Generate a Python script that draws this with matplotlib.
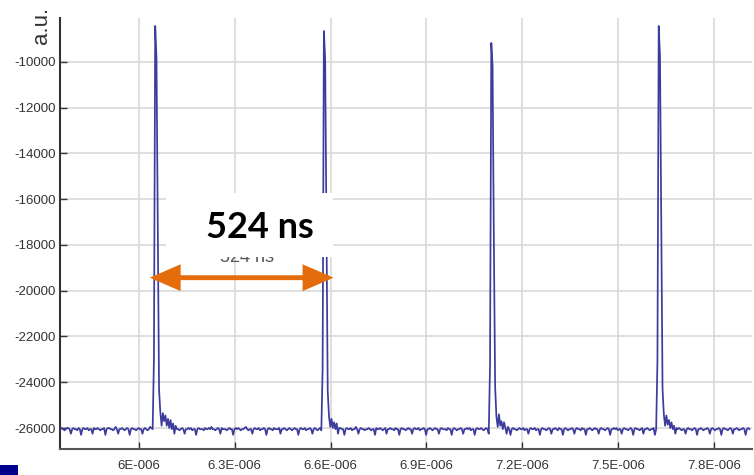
import numpy as np
import matplotlib
matplotlib.use('Agg')
import matplotlib.pyplot as plt
from matplotlib.patches import Rectangle

plt.rcParams['axes.unicode_minus'] = False

# sampling of the trace
t_start = 5.755e-6
t_step = 4e-9
baseline_level = -26050
noise_unit = 50

# baseline noise, in units of 50 a.u. around the baseline level
baseline_noise = [
    0, 1, 0, -1, 0, 1, 1, 0, -4, 0, 1, 0, 0, -1, 1, 0, -5, 0, 1, 0, 0, 1, -1, 0, 0, -4, 1, 0, 0, 1,
    0, -1, 0, 0, 1, -5, 0, 1, 1, 0, 0, -1, 0, 2, 0, -4, 0, 0, 1, 0, -1, 0, 1, 0, -5, 0, 1, 0, 0, -1,
    0, 1, 0, 0, -4, 0, 1, 0, -1, 0, 2, 1, 0, -1, 1, 0, 0, 0, 0, 0, 0, 0, 0, 0, 0, 0, 1, 0, -5, 0,
    1, 0, 0, -1, 0, 1, 0, -4, 0, 0, 1, 0, 1, -1, 0, 0, -5, 0, 1, 0, 0, 0, -1, 1, 0, 0, 1, 0, 2, 0,
    0, -1, 0, 1, 0, -4, 1, 0, 0, 0, -1, 0, 1, 0, 0, -5, 0, 1, 0, 1, 0, -1, 0, 0, 1, 2, 0, -1, 0, 0,
    -4, 0, 1, 0, 0, 1, -1, 0, 0, 1, 0, -5, 0, 1, 0, 0, -1, 1, 0, 0, 0, 1, -4, 0, 0, 1, 0, -1, 0, 1,
    0, -1, 0, 1, 0, 0, -5, 0, 1, 0, 0, 1, -1, 0, 0, 1, 0, -4, 0, 1, 0, -1, 0, 1, -1, 0, 0, 0, 0, 0,
    0, 0, 0, 0, 0, 0, 0, 0, -1, 1, 0, 0, -5, 0, 1, 0, 0, 1, -1, 0, 0, 2, 0, -4, 0, 1, 0, 0, -1, 0,
    0, 1, 0, -1, 0, 0, -5, 1, 0, 0, 1, 0, -1, 0, 1, -4, 0, 0, 1, 0, 0, -1, 1, 0, 0, -5, 0, 1, 0, 0,
    -1, 0, 1, 0, 0, -4, 0, 1, 0, 0, 1, -1, 0, 0, 1, 0, -5, 0, 0, 1, 0, -1, 0, 1, 0, 0, -4, 0, 1, 0,
    0, 0, -1, 1, 0, 0, -5, 0, 1, 0, -1, 0, 0, 1, 0, -4, 0, 0, 1, 0, 1, -1, 0, 0, -5, 0, 1, 0, 0, 1,
    0, -1, 0, 1, 0, -4, 0, 0, 0, 0, 0, 0, 0, 0, 0, 0, 0, 0, 0, 0, 1, 0, -5, 0, 1, 0, 0, -1, 0, 1,
    0, 0, 1, -1, 0, 0, -4, 0, 1, 0, 0, 1, -1, 0, 0, -5, 0, 1, 0, 0, -1, 0, 1, 0, -4, 0, 0, 1, 0, -1,
    1, 0, 0, -5, 0, 1, 0, -1, 0, 0, 1, 0, -4, 0, 1, 0, 0, -1, 1, 0, 0, -5, 0, 0, 1, 0, -1, 0, 1, 0,
    0, -4, 0, 1, 0, 0, -1, 0, 1, 0, -5, 0, 0, 1, 0, 1, -1, 0, 0, -4, 0, 1, 0, 0, -1, 0, 1, 0, -5, 0,
    1, 0, 0, -1, 0, 1, -4, 0, 0, 1, 0, -1, 0, 0, 1, -5, 0, 1, 0, 0, 0, 0, 0, 0, 0, 0, 0, 0, 0, 0,
    0, 0, 0, 0, 1, 0, -1, 0, 0, -4, 0, 1, 0, 0, -1, 0, 1, 0, -5, 0, 0, 1, 0, -1, 0, 0, 1, 0, -4, 0,
    1, 0, -1, 0, 0, 1, 0, -5, 0, 1, 0, 0, -1, 0, 1, 0, -4, 0, 0, 1, 0, -1, 0, 0, 1, 0, -5, 0, 1, 0,
]

# pulses: first sample index (one before the peak) and the samples from there on
pulse_index = [73, 205, 336, 467]
pulse_1 = [-23000, -8430, -9830, -17100, -24300, -25300, -25900, -25350, -25700,
           -25450, -25900, -25600, -26000, -25650, -26050, -25800, -26250, -25900]
pulse_2 = [-23400, -8650, -9900, -17000, -24400, -25500, -25950, -25600, -26000,
           -25750, -26050, -25800, -26250, -26000]
pulse_3 = [-23300, -9170, -10200, -17800, -24200, -25500, -25950, -25400, -25900,
           -25700, -26050, -25750, -26000, -26250, -25950]
pulse_4 = [-23100, -8430, -9740, -16900, -24300, -25400, -25900, -25450, -25850,
           -25650, -26000, -25750, -26050, -25900, -26250, -26000]
pulses = [pulse_1, pulse_2, pulse_3, pulse_4]

x_ticks = [6.0e-6, 6.3e-6, 6.6e-6, 6.9e-6, 7.2e-6, 7.5e-6, 7.8e-6]
x_tick_labels = ['6E-006', '6.3E-006', '6.6E-006', '6.9E-006',
                 '7.2E-006', '7.5E-006', '7.8E-006']
y_ticks = [-26000, -24000, -22000, -20000, -18000, -16000, -14000, -12000, -10000]

period_label = '524 ns'
period_start = 6.034e-6
period_end = 6.609e-6
period_level = -19430

# build the trace
signal = baseline_level + noise_unit * np.array(baseline_noise, dtype=float)
for idx, shape in zip(pulse_index, pulses):
    signal[idx:idx + len(shape)] = shape
time = t_start + t_step * np.arange(len(signal))

W, H = 754, 475
fig = plt.figure(figsize=(W / 100, H / 100), dpi=100)
ax = fig.add_axes([60 / W, 26 / H, 692 / W, 431 / H])

ax.plot(time, signal, color='#3c3c9c', lw=1.25, zorder=3)

ax.set_xlim(5.753e-6, 7.919e-6)
ax.set_ylim(-26917, -8080)
ax.set_xticks(x_ticks)
ax.set_xticklabels(x_tick_labels)
ax.set_yticks(y_ticks)

for lab in ax.get_xticklabels() + ax.get_yticklabels():
    lab.set_family('Liberation Sans')

ax.tick_params(direction='in', length=5, width=1, color='#333333',
               labelsize=9.5, labelcolor='#333333')
ax.tick_params(axis='x', pad=8)
ax.tick_params(axis='y', pad=3)

ax.grid(color='#d9d9d9', lw=1.2)
ax.set_axisbelow(True)
for side in ['top', 'right']:
    ax.spines[side].set_visible(False)
ax.spines['left'].set_color('#333333')
ax.spines['left'].set_linewidth(1.5)
ax.spines['bottom'].set_color('#555555')
ax.spines['bottom'].set_linewidth(1.5)

fig.text(41 / W, 1 - 25 / H, 'a.u.', rotation=90, ha='center', va='center',
         fontsize=16, color='#333333', family='Liberation Sans')

# small label that the overlay box hides
ax.text(247 / W, 1 - 257 / H, period_label, transform=fig.transFigure,
        ha='center', va='center', fontsize=13, color='#555555',
        family='Liberation Sans', zorder=4)

ax.add_patch(Rectangle((166 / W, 1 - 257 / H), 167 / W, 64 / H,
                       transform=fig.transFigure, facecolor='white',
                       edgecolor='none', zorder=5, clip_on=False))

ax.text(260 / W, 1 - 238 / H, period_label, transform=fig.transFigure,
        ha='center', va='baseline', fontsize=26, fontweight='bold',
        color='black', family='Lato', zorder=6)

ax.annotate('', xy=(period_end, period_level), xytext=(period_start, period_level),
            arrowprops=dict(arrowstyle='<|-|>,head_length=1.15,head_width=0.5',
                            color='#e46c0a', lw=3.5, mutation_scale=14,
                            shrinkA=0, shrinkB=0, joinstyle='miter'),
            zorder=6)

fig.patches.append(Rectangle((0, 0), 18 / W, 10 / H, transform=fig.transFigure,
                             facecolor='#00008b', edgecolor='none', figure=fig))

fig.savefig('out.png', dpi=100)
